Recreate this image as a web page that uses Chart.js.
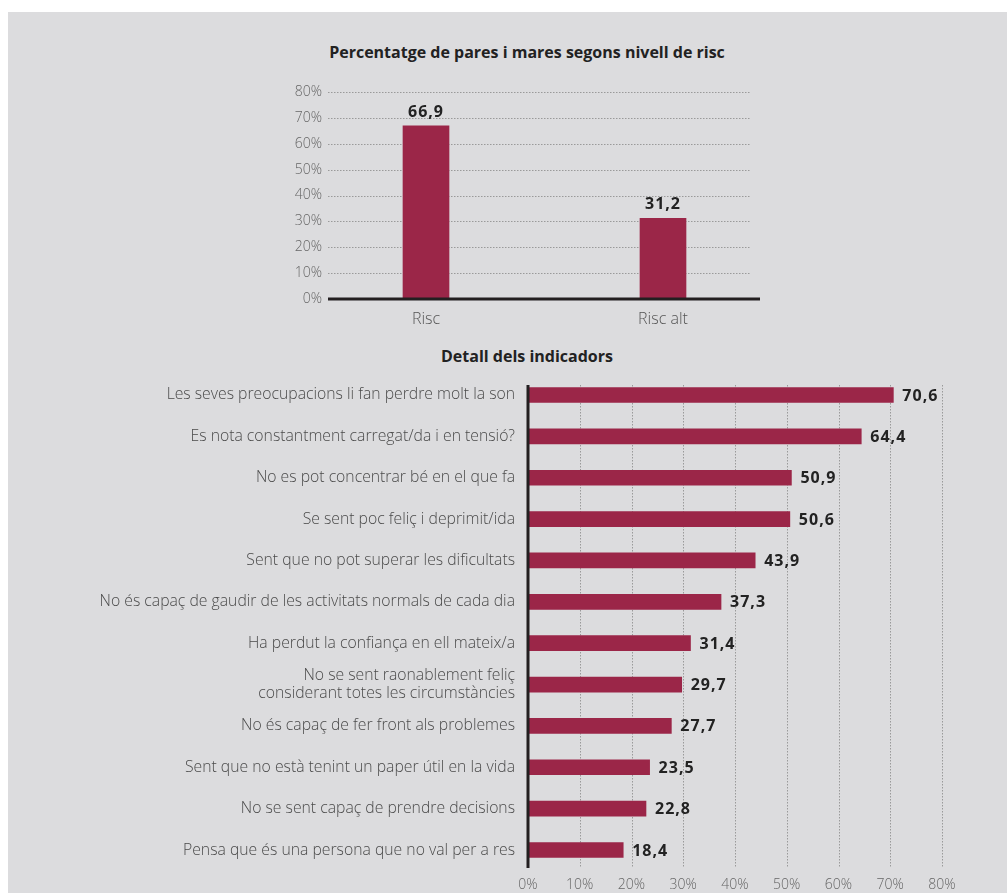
<!DOCTYPE html>
<html lang="ca">
<head>
<meta charset="UTF-8">
<title>Percentatge de pares i mares segons nivell de risc</title>
<script src="https://cdn.jsdelivr.net/npm/chart.js@4.4.1/dist/chart.umd.min.js"></script>
<style>
  body { margin: 0; background: #fff; font-family: "Open Sans", Lato, sans-serif; }
  #page { position: relative; width: 1007px; height: 893px; overflow: hidden; }
  #panel { position: absolute; left: 8px; top: 12px; right: 0; bottom: 0; background: #dcdcde; }
  .title { position: absolute; left: 227px; width: 600px; text-align: center;
           font-weight: bold; font-size: 16px; line-height: 20px; color: #222; }
  canvas { position: absolute; left: 0; }
</style>
</head>
<body>
<div id="page">
  <div id="panel"></div>
  <div class="title" style="top:42px">Percentatge de pares i mares segons nivell de risc</div>
  <div class="title" style="top:346px">Detall dels indicadors</div>
  <canvas id="topChart" width="1007" height="270" style="top:70px"></canvas>
  <canvas id="bottomChart" width="1007" height="560" style="top:340px"></canvas>
</div>

<script>
// --- data ---
const riskLabels = ['Risc', 'Risc alt'];
const riskValues = [66.9, 31.2];

const itemLabels = [
  'Les seves preocupacions li fan perdre molt la son',
  'Es nota constantment carregat/da i en tensió?',
  'No es pot concentrar bé en el que fa',
  'Se sent poc feliç i deprimit/ida',
  'Sent que no pot superar les dificultats',
  'No és capaç de gaudir de les activitats normals de cada dia',
  'Ha perdut la confiança en ell mateix/a',
  ['No se sent raonablement feliç', 'considerant totes les circumstàncies'],
  'No és capaç de fer front als problemes',
  'Sent que no està tenint un paper útil en la vida',
  'No se sent capaç de prendre decisions',
  'Pensa que és una persona que no val per a res'
];
const itemValues = [70.6, 64.4, 50.9, 50.6, 43.9, 37.3, 31.4, 29.7, 27.7, 23.5, 22.8, 18.4];

const pctTicks = [0, 10, 20, 30, 40, 50, 60, 70, 80];

const barColor = '#9b2648';
const fontFamily = '"Open Sans", Lato, sans-serif';

function fmt(v) { return v.toFixed(1).replace('.', ','); }

// dotted grid, thick axis line and value labels
const decor = {
  id: 'decor',
  beforeDatasetsDraw(chart, args, opts) {
    const ctx = chart.ctx;
    const scale = chart.scales[opts.valueAxis];
    ctx.save();
    ctx.strokeStyle = '#9a9a9a';
    ctx.lineWidth = 1;
    ctx.setLineDash([1.5, 1.5]);
    scale.ticks.forEach(t => {
      if (t.value === 0) return;
      const p = Math.round(scale.getPixelForValue(t.value)) + 0.5;
      ctx.beginPath();
      if (opts.horizontal) {
        ctx.moveTo(p, opts.from); ctx.lineTo(p, opts.to);
      } else {
        ctx.moveTo(opts.from, p); ctx.lineTo(opts.to, p);
      }
      ctx.stroke();
    });
    ctx.restore();
  },
  afterDatasetsDraw(chart, args, opts) {
    const ctx = chart.ctx;
    const scale = chart.scales[opts.valueAxis];
    const zero = scale.getPixelForValue(0);
    ctx.save();
    ctx.strokeStyle = '#231f20';
    ctx.lineWidth = 3;
    ctx.beginPath();
    if (opts.horizontal) {
      ctx.moveTo(zero, opts.from); ctx.lineTo(zero, opts.to);
    } else {
      ctx.moveTo(opts.from, zero); ctx.lineTo(opts.axisTo, zero);
    }
    ctx.stroke();

    ctx.fillStyle = '#222';
    ctx.font = 'bold 16px ' + fontFamily;
    ctx.letterSpacing = '1px';
    const meta = chart.getDatasetMeta(0);
    const values = chart.data.datasets[0].raw;
    meta.data.forEach((bar, i) => {
      if (opts.horizontal) {
        ctx.textAlign = 'left';
        ctx.textBaseline = 'middle';
        ctx.fillText(fmt(values[i]), bar.x + 9, bar.y + 1);
      } else {
        ctx.textAlign = 'center';
        ctx.textBaseline = 'alphabetic';
        ctx.fillText(fmt(values[i]), bar.x, bar.y - 9);
      }
    });
    ctx.restore();
  }
};

// --- top chart (linear x so the two bars sit where the original puts them) ---
new Chart(document.getElementById('topChart'), {
  type: 'bar',
  data: {
    datasets: [{
      raw: riskValues,
      data: riskValues.map((v, i) => ({ x: i, y: v })),
      backgroundColor: barColor,
      barThickness: 46
    }]
  },
  options: {
    responsive: false,
    animation: false,
    layout: { padding: { left: 278, right: 247, top: 22, bottom: 0 } },
    plugins: {
      legend: { display: false },
      tooltip: { enabled: false },
      decor: { valueAxis: 'y', horizontal: false, from: 328, to: 751, axisTo: 760 }
    },
    scales: {
      x: {
        type: 'linear',
        offset: false,
        min: -0.4135, max: 1.4093,
        afterBuildTicks: s => { s.ticks = riskLabels.map((l, i) => ({ value: i })); },
        grid: { display: false, drawTicks: false },
        border: { display: false },
        ticks: {
          color: '#555', padding: 11,
          font: { family: fontFamily, size: 16, weight: 300 },
          callback: v => riskLabels[v]
        },
        afterFit: s => { s.height = 41; }
      },
      y: {
        min: 0, max: 80,
        afterBuildTicks: s => { s.ticks = pctTicks.map(v => ({ value: v })); },
        grid: { display: false, drawTicks: false },
        border: { display: false },
        ticks: {
          color: '#666', padding: 6,
          font: { family: fontFamily, size: 14, weight: 300 },
          callback: v => v + '%'
        },
        afterFit: s => { s.width = 50; }
      }
    }
  },
  plugins: [decor]
});

// --- bottom chart ---
new Chart(document.getElementById('bottomChart'), {
  type: 'bar',
  data: {
    labels: itemLabels,
    datasets: [{ raw: itemValues, data: itemValues, backgroundColor: barColor, barThickness: 15 }]
  },
  options: {
    indexAxis: 'y',
    responsive: false,
    animation: false,
    layout: { padding: { left: 0, right: 65, top: 34.3, bottom: 0 } },
    plugins: {
      legend: { display: false },
      tooltip: { enabled: false },
      decor: { valueAxis: 'x', horizontal: true, from: 45, to: 528 }
    },
    scales: {
      x: {
        min: 0, max: 80,
        afterBuildTicks: s => { s.ticks = pctTicks.map(v => ({ value: v })); },
        grid: { display: false, drawTicks: false },
        border: { display: false },
        ticks: {
          color: '#666', padding: 6,
          font: { family: fontFamily, size: 14, weight: 300 },
          callback: v => v + '%'
        },
        afterFit: s => { s.height = 29.3; }
      },
      y: {
        grid: { display: false, drawTicks: false },
        border: { display: false },
        ticks: {
          color: '#4a4a4a', padding: 13,
          font: { family: fontFamily, size: 15.75, weight: 300, lineHeight: 1.2 }
        },
        afterFit: s => { s.width = 528; }
      }
    }
  },
  plugins: [decor]
});
</script>
</body>
</html>
